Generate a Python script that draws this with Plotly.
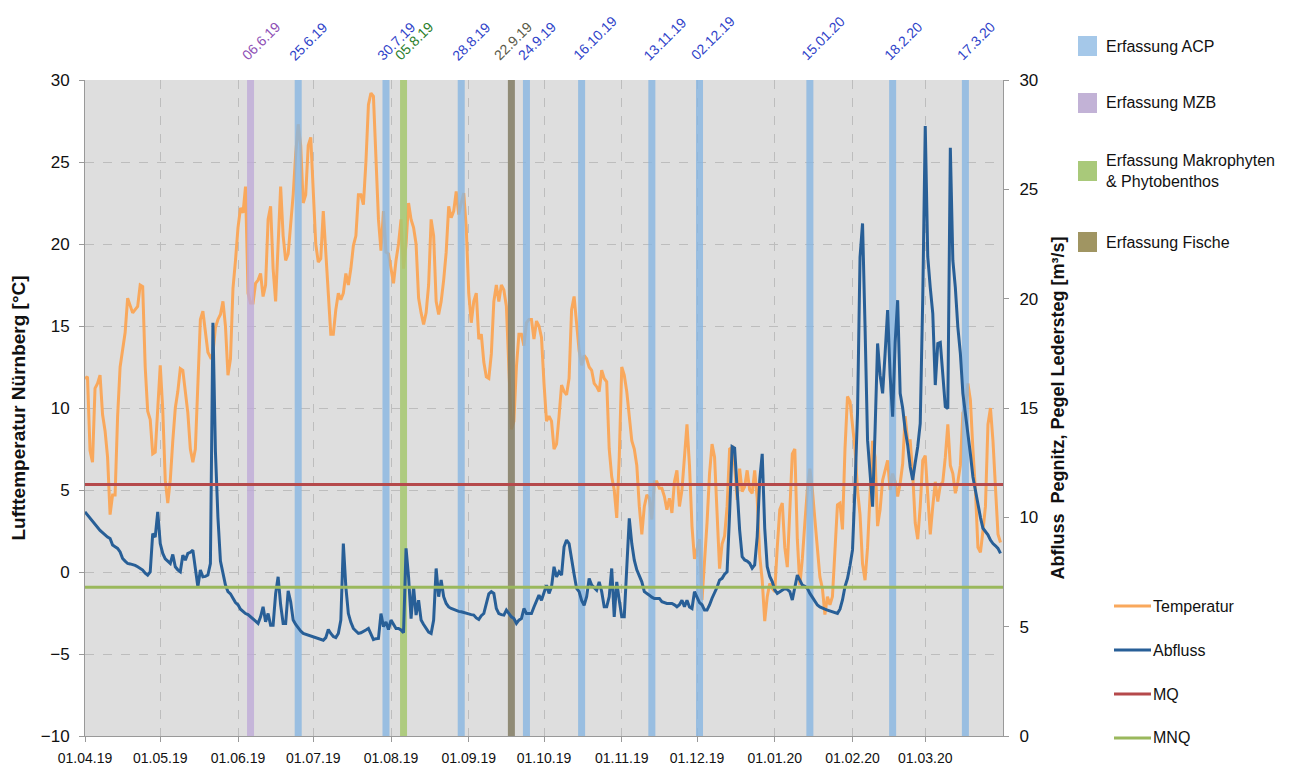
import plotly.graph_objects as go
import pandas as pd

# ---------------- data ----------------
start_date = "2019-04-01"
end_date = "2020-04-01"

# daily air temperature Nürnberg [°C], 01.04.2019 .. 31.03.2020
temperatur = [
    11.8, 11.9, 7.4, 6.7, 11.2, 11.5, 12.0, 9.6, 8.6, 7.0,
    3.5, 4.7, 4.7, 9.5, 12.5, 13.6, 14.6, 16.7, 16.3, 15.8,
    16.0, 16.2, 17.5, 17.4, 12.5, 9.8, 9.3, 7.2, 7.3, 10.4,
    12.6, 9.9, 5.6, 4.2, 5.6, 8.0, 10.0, 11.0, 12.4, 12.3,
    11.0, 9.7, 7.5, 6.7, 7.5, 11.5, 15.4, 15.9, 14.5, 13.4,
    13.1, 13.3, 14.9, 15.4, 15.7, 16.5, 15.0, 12.0, 13.0, 17.3,
    19.0, 21.0, 22.2, 21.9, 23.5, 17.0, 16.4, 16.4, 17.6, 17.8,
    18.2, 16.8, 17.5, 21.5, 22.3, 18.5, 16.5, 20.5, 23.5, 20.5,
    19.0, 19.4, 21.2, 23.0, 25.5, 27.3, 26.0, 22.5, 23.0, 26.0,
    26.5, 23.5, 20.0, 18.9, 19.1, 22.0, 19.5, 16.5, 14.5, 14.5,
    16.0, 17.0, 16.6, 17.0, 18.2, 17.5, 18.5, 19.9, 20.5, 23.0,
    23.0, 22.4, 25.0, 28.5, 29.2, 29.0, 25.0, 21.5, 19.6, 22.0,
    19.5, 19.4, 18.5, 17.6, 19.0, 20.0, 21.5, 18.5, 20.0, 22.5,
    21.5, 21.0, 20.0, 16.7, 15.8, 15.1, 15.8, 17.5, 21.5, 20.5,
    16.5, 15.7, 16.5, 17.8, 19.5, 22.3, 21.6, 22.0, 23.2, 21.8,
    22.5, 23.1, 21.0, 17.0, 15.2, 16.5, 17.0, 14.2, 14.5, 12.8,
    11.9, 11.8, 13.3, 16.5, 17.5, 16.5, 17.5, 17.2, 16.2, 12.5,
    8.7, 9.2, 12.5, 14.5, 14.5, 13.8, 15.2, 15.4, 15.4, 14.2,
    15.3, 15.0, 14.3, 11.5, 9.2, 9.5, 9.2, 7.5, 7.8, 9.5,
    11.4, 11.0, 10.8, 11.8, 16.0, 16.8, 15.3, 13.5, 12.6, 13.2,
    13.0, 12.5, 12.3, 11.5, 11.3, 11.0, 12.3, 11.8, 11.6, 7.5,
    5.8, 5.0, 3.3, 7.0, 12.5, 12.0, 11.0, 9.5, 8.0, 7.5,
    6.5, 4.0, 2.3, 4.0, 4.7, 4.5, 3.2, 5.5, 5.5, 5.1,
    5.1, 4.6, 3.8, 4.5, 3.6, 5.5, 6.2, 4.0, 5.0, 7.0,
    9.0, 6.5, 2.8, 0.8, 1.5, 2.0, -1.7, 0.5, 3.0, 6.0,
    7.8, 7.0, 3.5, 0.2, 1.7, 2.2, 4.0, 7.5, 7.6, 6.5,
    4.4, 6.3, 4.9, 5.2, 6.2, 5.0, 4.8, 6.2, 4.5, 1.0,
    -0.5, -3.0, -1.5, -0.7, -1.0, -1.2, 1.5, 3.8, 4.2, 1.5,
    0.3, 3.5, 7.2, 7.5, 2.0, -0.8, 0.8, 3.0, 5.0, 6.3,
    5.0, 3.2, 1.5, -0.3, -1.0, -2.6, -1.5, -2.0, -1.5, 1.5,
    4.1, 4.2, 2.6, 7.5, 10.7, 10.4, 9.0, 7.5, 5.0, 3.5,
    0.5, -0.5, 1.5, 5.0, 8.0, 7.0, 2.8, 3.8, 5.6, 6.2,
    6.8, 5.0, 6.0, 5.5, 4.6, 5.4, 6.6, 9.5, 8.0, 8.0,
    6.0, 3.0, 2.0, 4.0, 6.8, 7.1, 5.0, 2.3, 4.0, 5.5,
    4.3, 5.3, 5.5, 7.0, 9.0, 6.5, 6.0, 4.8, 5.5, 6.5,
    9.7, 10.0, 11.5, 10.5, 7.5, 5.0, 1.5, 1.2, 2.5, 4.0,
    9.0, 10.0, 8.0, 5.0, 2.3, 1.8,
]

# daily discharge Pegnitz, Pegel Ledersteg [m³/s]
abfluss = [
    10.25, 10.1, 9.95, 9.8, 9.69, 9.55, 9.4, 9.3, 9.19, 9.1,
    9.03, 8.73, 8.65, 8.58, 8.42, 8.12, 8.0, 7.89, 7.87, 7.85,
    7.8, 7.74, 7.65, 7.59, 7.45, 7.36, 7.5, 9.26, 9.1, 10.25,
    8.8, 8.35, 8.1, 7.97, 7.89, 8.3, 7.74, 7.6, 7.51, 8.27,
    8.04, 8.35, 8.4, 8.5, 7.66, 6.82, 7.59, 7.28, 7.3, 7.36,
    7.89, 18.9, 13.0, 10.0, 8.0, 7.51, 6.9, 6.6, 6.5, 6.3,
    6.1, 6.0, 5.8, 5.7, 5.6, 5.55, 5.45, 5.37, 5.25, 5.15,
    5.45, 5.91, 5.22, 5.6, 5.07, 5.07, 6.5, 7.28, 6.0, 5.15,
    5.15, 6.64, 6.14, 5.3, 5.1, 4.92, 4.8, 4.69, 4.65, 4.6,
    4.57, 4.52, 4.49, 4.45, 4.4, 4.38, 4.5, 4.87, 4.69, 4.55,
    4.5, 4.69, 5.3, 8.8, 6.82, 5.6, 5.2, 4.92, 4.8, 4.69,
    4.72, 4.77, 4.85, 4.92, 4.69, 4.41, 4.45, 4.46, 5.6, 5.0,
    5.22, 4.87, 5.3, 5.1, 4.92, 4.92, 4.85, 4.72, 8.58, 7.28,
    5.37, 6.82, 5.53, 6.21, 5.3, 5.1, 4.92, 4.75, 4.69, 5.3,
    7.66, 6.37, 7.13, 6.37, 6.06, 5.9, 5.83, 5.78, 5.76, 5.7,
    5.68, 5.64, 5.6, 5.58, 5.55, 5.53, 5.4, 5.33, 5.5, 5.6,
    6.06, 6.5, 6.6, 6.52, 5.83, 5.6, 5.55, 5.53, 5.76, 5.6,
    5.45, 5.37, 5.15, 5.3, 5.37, 5.83, 5.6, 5.6, 5.6, 5.9,
    6.14, 6.44, 6.21, 6.52, 6.9, 6.52, 6.82, 7.74, 7.28, 7.51,
    7.36, 8.65, 8.96, 8.8, 8.0, 7.4, 6.75, 6.6, 6.2, 5.98,
    6.37, 7.2, 6.9, 6.8, 6.67, 7.05, 6.6, 5.91, 5.91, 6.37,
    7.66, 5.45, 7.05, 6.21, 5.45, 5.45, 7.8, 9.95, 8.8, 8.04,
    7.6, 7.3, 7.05, 6.6, 6.5, 6.44, 6.35, 6.29, 6.29, 6.29,
    6.14, 6.1, 6.06, 6.06, 6.06, 6.0, 5.91, 6.0, 6.21, 5.91,
    6.21, 5.9, 5.83, 6.6, 6.37, 6.1, 6.0, 5.76, 5.76, 5.99,
    6.3, 6.52, 6.8, 7.13, 7.21, 7.4, 7.51, 10.18, 13.23, 13.16,
    11.25, 9.42, 8.2, 8.05, 8.0, 7.9, 7.67, 7.82, 9.12, 11.7,
    12.9, 9.5, 7.74, 7.3, 7.06, 6.68, 6.52, 6.6, 6.68, 6.75,
    6.7, 6.6, 6.22, 6.83, 7.36, 7.13, 6.9, 6.85, 6.75, 6.52,
    6.35, 6.22, 5.99, 5.9, 5.84, 5.8, 5.76, 5.72, 5.69, 5.65,
    5.61, 5.8, 6.22, 6.83, 7.2, 7.8, 8.51, 11.4, 14.76, 21.9,
    23.44, 18.7, 13.53, 12.01, 10.49, 14.0, 17.95, 16.5, 15.67, 17.5,
    19.48, 16.5, 14.6, 18.0, 19.93, 15.67, 15.0, 14.0, 13.3, 12.3,
    11.71, 12.5, 13.23, 14.3, 20.0, 27.9, 21.92, 20.5, 19.33, 16.05,
    17.95, 18.0, 16.5, 15.06, 14.98, 26.9, 21.76, 20.5, 18.7, 17.5,
    15.67, 14.8, 14.0, 12.9, 11.86, 11.2, 10.64, 10.0, 9.5, 9.34,
    9.2, 8.96, 8.8, 8.7, 8.58, 8.35,
]

mq = 11.5    # mittlerer Abfluss [m³/s]
mnq = 6.8    # mittlerer Niedrigwasserabfluss [m³/s]

# sampling dates (bar positions) and their labels
acp_dates = ["2019-06-25", "2019-07-30", "2019-08-29", "2019-09-24", "2019-10-16",
             "2019-11-13", "2019-12-02", "2020-01-15", "2020-02-17", "2020-03-17"]
acp_labels = ["25.6.19", "30.7.19", "28.8.19", "24.9.19", "16.10.19",
              "13.11.19", "02.12.19", "15.01.20", "18.2.20", "17.3.20"]
mzb_dates = ["2019-06-06"]
mzb_labels = ["06.6.19"]
makro_dates = ["2019-08-06"]
makro_labels = ["05.8.19"]
fisch_dates = ["2019-09-18"]
fisch_labels = ["22.9.19"]

month_ticks = pd.date_range("2019-04-01", "2020-03-01", freq="MS")
month_labels = [d.strftime("%d.%m.%y") for d in month_ticks]

# ---------------- figure ----------------
FONT = "Liberation Sans, Arial, sans-serif"
dates = pd.date_range(start_date, periods=len(temperatur), freq="D")

fig = go.Figure()

fig.add_trace(go.Scatter(x=dates, y=temperatur, mode="lines", name="Temperatur",
                         line=dict(color="#f9a85c", width=3), yaxis="y", showlegend=False))
fig.add_trace(go.Scatter(x=dates, y=abfluss, mode="lines", name="Abfluss",
                         line=dict(color="#285f97", width=3), yaxis="y2", showlegend=False))

groups = [
    (acp_dates, acp_labels, "rgba(135,181,225,0.8)", "#2f43c9", 0),
    (mzb_dates, mzb_labels, "rgba(190,170,215,0.8)", "#8e4fb5", 0),
    (makro_dates, makro_labels, "rgba(166,200,110,0.85)", "#2a7d2a", 0),
    (fisch_dates, fisch_labels, "rgba(130,124,100,0.85)", "#5a5947", -9),
]
annotations = []
for dlist, llist, col, tcol, dx in groups:
    for d, lab in zip(dlist, llist):
        fig.add_trace(go.Scatter(x=[d, d], y=[-10, 30], mode="lines",
                                 line=dict(color=col, width=7), yaxis="y",
                                 showlegend=False, hoverinfo="skip"))
        annotations.append(dict(x=d, xref="x", y=1, yref="paper", text=lab,
                                textangle=-45, showarrow=False, xanchor="left",
                                yanchor="bottom", xshift=-13 + dx, yshift=15,
                                borderpad=0,
                                font=dict(family=FONT, size=14, color=tcol)))

fig.add_trace(go.Scatter(x=[start_date, end_date], y=[mq, mq], mode="lines", name="MQ",
                         line=dict(color="#b5494b", width=3), yaxis="y2", showlegend=False))
fig.add_trace(go.Scatter(x=[start_date, end_date], y=[mnq, mnq], mode="lines", name="MNQ",
                         line=dict(color="#9ab85c", width=3), yaxis="y2", showlegend=False))

# ---- manual legend (paper coordinates, page pixels -> paper fractions) ----
L, R, T, B = 85, 1003, 80, 736
def px(X):
    return (X - L) / (R - L)
def py(Y):
    return (B - Y) / (B - T)

shapes = []
box_items = [
    ("Erfassung ACP", "rgb(165,200,233)", 46),
    ("Erfassung MZB", "rgb(194,178,214)", 103),
    ("Erfassung Makrophyten<br>& Phytobenthos", "rgb(169,201,122)", 171),
    ("Erfassung Fische", "rgb(160,149,98)", 242),
]
for text, col, yc in box_items:
    shapes.append(dict(type="rect", xref="paper", yref="paper",
                       x0=px(1078), x1=px(1097), y0=py(yc + 10), y1=py(yc - 10),
                       fillcolor=col, line=dict(width=0)))
    annotations.append(dict(x=px(1104), y=py(yc), xref="paper", yref="paper", text=text,
                            showarrow=False, xanchor="left", yanchor="middle", align="left",
                            font=dict(family=FONT, size=16, color="#111")))
line_items = [
    ("Temperatur", "#f9a85c", 606),
    ("Abfluss", "#285f97", 650),
    ("MQ", "#b5494b", 694),
    ("MNQ", "#9ab85c", 738),
]
for text, col, yc in line_items:
    shapes.append(dict(type="line", xref="paper", yref="paper",
                       x0=px(1114), x1=px(1151), y0=py(yc), y1=py(yc),
                       line=dict(color=col, width=3)))
    annotations.append(dict(x=px(1151), y=py(yc), xref="paper", yref="paper", text=text,
                            showarrow=False, xanchor="left", yanchor="middle",
                            font=dict(family=FONT, size=16, color="#111")))

# the page adds an 8 px body margin: size the figure so the plot area lands on
# page pixels x 85..1003, y 80..736
PAGE_PAD = 8
W, H = 1293 - PAGE_PAD, 767 - PAGE_PAD
fig.update_layout(
    width=W, height=H,
    margin=dict(l=L - PAGE_PAD, r=W - (R - PAGE_PAD), t=T - PAGE_PAD, b=H - (B - PAGE_PAD),
                autoexpand=False),
    paper_bgcolor="white", plot_bgcolor="#dedede",
    font=dict(family=FONT, size=15, color="#111"),
    showlegend=False,
    xaxis=dict(type="date", range=[start_date, end_date], automargin=False,
               tickvals=month_ticks, ticktext=month_labels,
               tickfont=dict(size=14), ticks="outside", ticklen=5, tickcolor="#999",
               ticklabelstandoff=4,
               showgrid=True, gridcolor="#bdbdbd", griddash="dash", gridwidth=1,
               showline=True, linecolor="#999", linewidth=1, zeroline=False),
    yaxis=dict(range=[-10, 30], tickvals=list(range(-10, 31, 5)), automargin=False,
               tickfont=dict(size=17), ticks="outside", ticklen=5, tickcolor="#999",
               ticklabelstandoff=6,
               showgrid=True, gridcolor="#bdbdbd", griddash="dash", gridwidth=1,
               showline=True, linecolor="#999", linewidth=1, zeroline=False,
               title=dict(text="<b>Lufttemperatur Nürnberg [°C]</b>",
                          font=dict(size=19), standoff=12)),
    yaxis2=dict(range=[0, 30], tickvals=list(range(0, 31, 5)), overlaying="y", side="right",
                automargin=False,
                tickfont=dict(size=17), ticks="outside", ticklen=5, tickcolor="#999",
                ticklabelstandoff=7,
                showgrid=False, showline=True, linecolor="#999", linewidth=1, zeroline=False,
                title=dict(text="<b>Abfluss  Pegnitz, Pegel Ledersteg [m³/s]</b>",
                           font=dict(size=18), standoff=14)),
    shapes=shapes,
    annotations=annotations,
)

fig.write_html("out.html")
